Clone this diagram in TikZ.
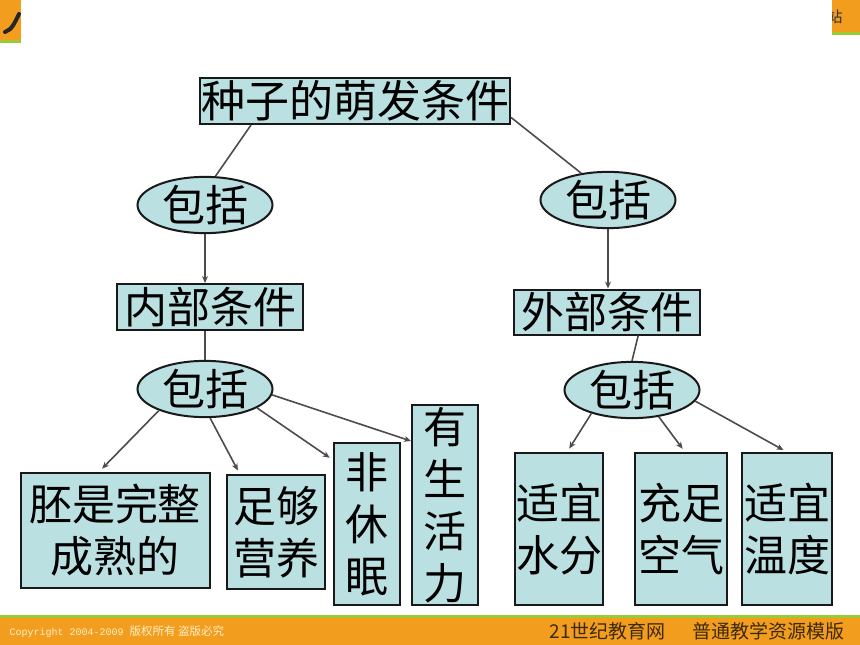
\documentclass[tikz,border=0pt]{standalone}
\usepackage{fontspec}
\usetikzlibrary{arrows.meta,shapes.geometric}

\newfontfamily\cjk{Noto Sans CJK SC}
\newfontfamily\cmono{Liberation Mono}

\definecolor{boxfill}{RGB}{186,224,226}
\definecolor{barorange}{RGB}{243,157,30}
\definecolor{bargreen}{RGB}{155,202,52}
\definecolor{barcream}{RGB}{255,240,200}
\definecolor{bartext}{RGB}{60,42,12}

\begin{document}
\begin{tikzpicture}[x=1pt,y=-1pt,
    box/.style={draw=black!90,line width=2pt,fill=boxfill,inner sep=0pt,
        align=center,font=\cjk\fontsize{43}{52}\selectfont},
    oval/.style={box,ellipse,minimum width=135,minimum height=55},
    link/.style={draw=black!70,line width=1.6pt},
    arr/.style={link,-{Stealth[length=7pt,width=6pt]}}]

\useasboundingbox[fill=white] (0,0) rectangle (860,645);

% bars
\fill[barorange] (0,0) rectangle (21,40);
\fill[bargreen] (0,40) rectangle (21,43);
\fill[barorange] (832,0) rectangle (860,32);
\fill[bargreen] (832,32) rectangle (860,35);
\fill[bargreen] (0,615) rectangle (860,618);
\fill[barorange] (0,618) rectangle (860,645);

\draw[black!85,line width=4pt,line cap=round] (19,14) .. controls (15,22) and (12,30) .. (5,32);
\begin{scope}
\clip (832,0) rectangle (860,32);
\node[text=black!80,font=\cjk\fontsize{15}{15}\selectfont] (tag) at (835,17) {站};
\end{scope}

\node[anchor=west,text=barcream] (copy) at (6,632)
    {\cmono\fontsize{10}{10}\selectfont Copyright 2004-2009 \cjk\fontsize{11.5}{11.5}\selectfont 版权所有 盗版必究};
\node[anchor=west,text=bartext,font=\cjk\fontsize{19}{19}\selectfont] (site) at (546,631) {21世纪教育网};
\node[anchor=west,text=bartext,font=\cjk\fontsize{19}{19}\selectfont] (tmpl) at (689,631) {普通教学资源模版};

% tree
\node[box,minimum width=310,minimum height=46,font=\cjk\fontsize{44}{52}\selectfont] (seed) at (355,101) {种子的萌发条件};

\node[oval] (inc1) at (205,205) {包括};
\node[oval] (inc2) at (608,200) {包括};

\node[box,minimum width=186,minimum height=46] (inner) at (210,307) {内部条件};
\node[box,minimum width=186,minimum height=45] (outer) at (607,312) {外部条件};

\node[oval] (inc3) at (205,389) {包括};
\node[oval] (inc4) at (632,390) {包括};

\node[box,minimum width=189,minimum height=115] (embryo) at (115,530) {胚是完整\\成熟的};
\node[box,minimum width=98,minimum height=114] (food) at (276,532) {足够\\营养};
\node[box,minimum width=66,minimum height=162] (awake) at (367,524) {非\\休\\眠};
\node[box,minimum width=66,minimum height=200] (alive) at (445,505) {有\\生\\活\\力};

\node[box,minimum width=88,minimum height=152] (water) at (559,529) {适宜\\水分};
\node[box,minimum width=92,minimum height=152] (air) at (681,529) {充足\\空气};
\node[box,minimum width=90,minimum height=152] (warm) at (787,529) {适宜\\温度};

\draw[link] (seed.-167) -- (inc1.70);
\draw[link] (seed.-6) -- (inc2.135);

\draw[arr] (inc1.south) -- (inc1.south |- inner.north);
\draw[arr] (inc2.south) -- (inc2.south |- outer.north);

\draw[link] (inner.south -| inc3.north) -- (inc3.north);
\draw[link] (outer.-37) -- (inc4.north);

\foreach \a/\b in {inc3.-155/embryo.105, inc3.-80/food.122, inc3.-20/awake.118,
    inc4.-150/water.84, inc4.-45/air.87, inc4.-10/warm.north}
    \draw[arr,shorten >=4pt] (\a) -- (\b);

\draw[arr] (inc3.-5) -- (alive.118);

\end{tikzpicture}
\end{document}
